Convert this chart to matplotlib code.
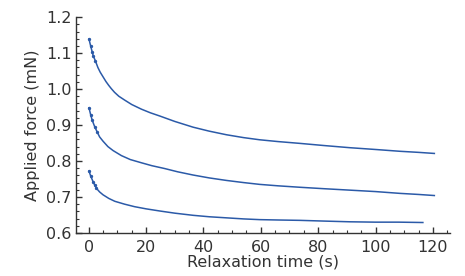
import matplotlib
matplotlib.use("Agg")
import matplotlib.pyplot as plt
from matplotlib.ticker import MultipleLocator

# Relaxation time (s) and applied force (mN)
t_top = [0.1, 0.7, 1.2, 1.6, 2.3, 3.2, 4.0, 5.0, 6.0, 7.0, 7.9, 9.0, 10.5,
         12.6, 15, 18.4, 21.5, 24.8, 30, 36.4, 42, 48, 54, 59.6, 66, 73.6,
         82, 91, 100, 108.5, 115, 120.5]
f_top = [1.139, 1.119, 1.104, 1.092, 1.079, 1.060, 1.047, 1.034, 1.021, 1.010,
         1.001, 0.991, 0.980, 0.969, 0.957, 0.944, 0.934, 0.925, 0.910, 0.894,
         0.883, 0.873, 0.865, 0.859, 0.854, 0.849, 0.843, 0.837, 0.832, 0.827,
         0.824, 0.821]

t_mid = [0.1, 0.7, 1.2, 2.1, 3.0, 3.8, 5.0, 6.7, 8.5, 11.4, 14.5, 18.4, 22,
         26.5, 31, 36.4, 42, 48, 54, 59.6, 66, 73.6, 82, 91, 100, 108.5, 115,
         120.5]
f_mid = [0.948, 0.928, 0.914, 0.895, 0.880, 0.867, 0.855, 0.840, 0.829, 0.815,
         0.804, 0.795, 0.787, 0.779, 0.770, 0.761, 0.753, 0.746, 0.740, 0.735,
         0.731, 0.727, 0.723, 0.719, 0.715, 0.710, 0.707, 0.704]

t_low = [0.1, 0.7, 1.5, 2.1, 2.7, 3.8, 5.0, 7.0, 9.1, 12.5, 16, 20, 24.8, 30,
         36.4, 42, 48, 54, 59.6, 66, 73.6, 82, 91, 100, 108, 116.5]
f_low = [0.772, 0.758, 0.743, 0.733, 0.724, 0.714, 0.706, 0.696, 0.688, 0.680,
         0.673, 0.667, 0.661, 0.655, 0.649, 0.645, 0.642, 0.639, 0.637, 0.636,
         0.635, 0.633, 0.631, 0.630, 0.630, 0.629]

blue = "#2b5aa8"
grey = "#333333"

plt.rcParams['font.family'] = ['DejaVu Sans']
fig = plt.figure(figsize=(4.65, 2.76), dpi=100)
ax = fig.add_axes([0.163, 0.156, 0.805, 0.782])

for t, f in [(t_top, f_top), (t_mid, f_mid), (t_low, f_low)]:
    ax.plot(t, f, color=blue, lw=1.1, marker='o', ms=1.4, markevery=range(5))

ax.set_xlim(-4.5, 126)
ax.set_ylim(0.6, 1.2)
ax.set_xticks([0, 20, 40, 60, 80, 100, 120])
ax.set_yticks([0.6, 0.7, 0.8, 0.9, 1.0, 1.1, 1.2])
ax.xaxis.set_minor_locator(MultipleLocator(5))
ax.yaxis.set_minor_locator(MultipleLocator(0.02))
ax.tick_params(which='both', direction='in', colors=grey, labelsize=11.5)
ax.tick_params(which='major', length=4, width=1)
ax.tick_params(which='minor', length=2, width=0.8)
ax.tick_params(axis='y', pad=3)
ax.tick_params(axis='x', pad=5)

for side in ['top', 'right']:
    ax.spines[side].set_visible(False)
for side in ['left', 'bottom']:
    ax.spines[side].set_color(grey)
    ax.spines[side].set_linewidth(1.0)

ax.set_xlabel("Relaxation time (s)", fontsize=11.5, color=grey, labelpad=0)
ax.set_ylabel("Applied force (mN)", fontsize=11.5, color=grey, labelpad=4)

plt.savefig("out.png", dpi=100)
